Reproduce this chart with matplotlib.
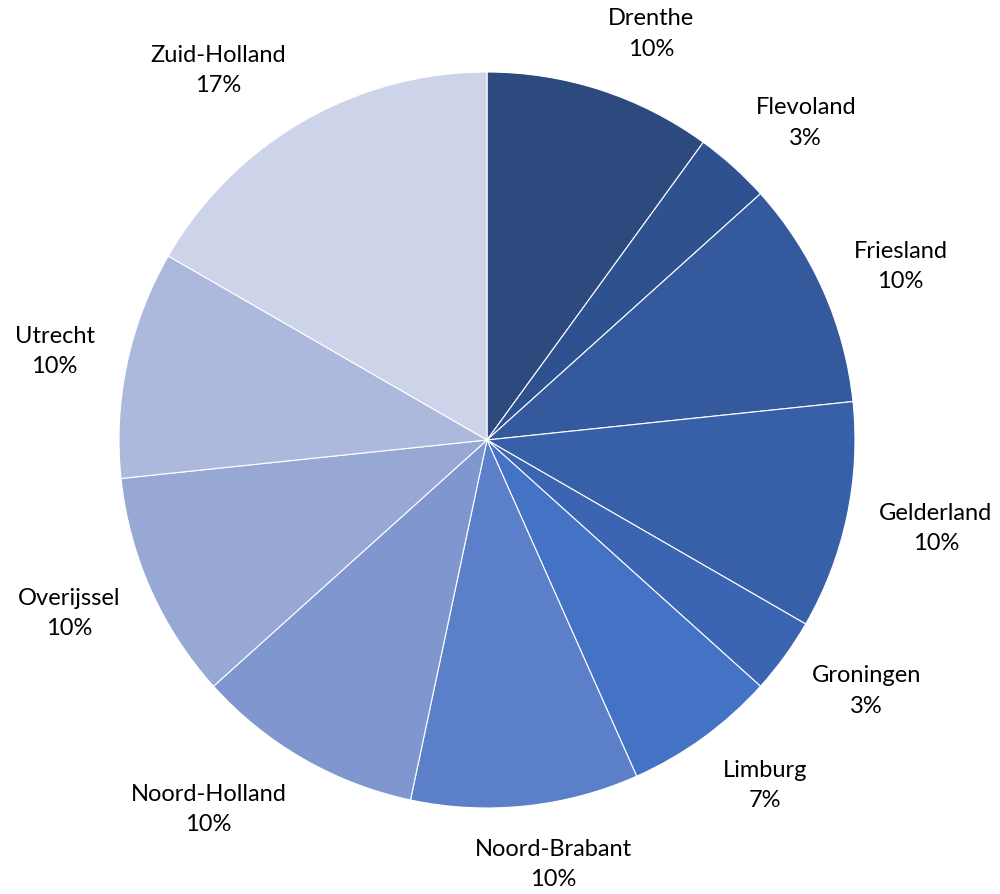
import numpy as np
import matplotlib
matplotlib.use('Agg')
import matplotlib.pyplot as plt

# provinces, clockwise from 12 o'clock
provinces = ['Drenthe', 'Flevoland', 'Friesland', 'Gelderland', 'Groningen', 'Limburg',
             'Noord-Brabant', 'Noord-Holland', 'Overijssel', 'Utrecht', 'Zuid-Holland']
counts = [3, 1, 3, 3, 1, 2, 3, 3, 3, 3, 5]
colors = ['#2C4A7E', '#2E5190', '#34599D', '#3860A9', '#3B64B2', '#4472C4',
          '#5B7FC8', '#7F96CE', '#97A8D5', '#ADB8DD', '#CDD4E9']

plt.rcParams['font.family'] = ['Lato', 'DejaVu Sans']

fig = plt.figure(figsize=(10, 8.94), dpi=100)
ax = fig.add_axes([0, 0, 1, 1])

wedges, _ = ax.pie(counts, colors=colors, startangle=90, counterclock=False,
                   wedgeprops=dict(edgecolor='white', linewidth=0.8))

# pie centre sits at (487, 440) px, radius 368 px
R = 368
ax.set_xlim(-487 / R, (1000 - 487) / R)
ax.set_ylim(-(894 - 440) / R, 440 / R)
ax.set_aspect('equal')
ax.axis('off')

renderer = fig.canvas.get_renderer()
total = sum(counts)
gap = 1.09
for w, name, c in zip(wedges, provinces, counts):
    mid = np.deg2rad((w.theta1 + w.theta2) / 2)
    px, py = gap * np.cos(mid), gap * np.sin(mid)
    t = ax.text(px, py, f'{name}\n{c / total * 100:.0f}%', ha='center', va='center',
                fontsize=17, linespacing=1.55, color='black')
    bb = t.get_window_extent(renderer)
    tw, th = bb.width / R, bb.height / R
    # push the label box outwards so it sits just off the rim (best-fit style)
    fx = np.clip(3 * np.cos(mid), -1, 1)
    t.set_position((px + fx * tw / 2, py + np.sin(mid) * th / 2))

fig.savefig('out.png', dpi=100)
